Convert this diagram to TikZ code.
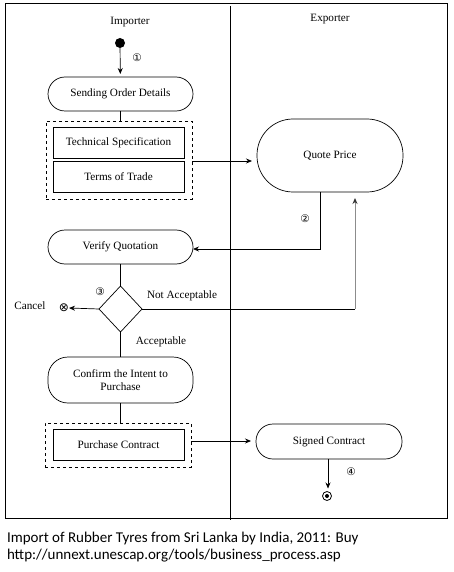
\documentclass[tikz,border=0pt]{standalone}
\usepackage{fontspec}
\setmainfont{Liberation Serif}
\newfontfamily\capfont{Carlito}
\newfontfamily\symfont{DejaVu Sans}
\usetikzlibrary{arrows.meta,shapes.geometric,calc}
\begin{document}
\begin{tikzpicture}[x=1pt,y=-1pt,
  every node/.style={inner sep=0pt,outer sep=0pt},
  lbl/.style={font=\fontsize{11.2}{12}\selectfont},
  act/.style={draw,line width=0.7pt,rounded corners=17pt,minimum width=145pt,minimum height=34pt,font=\fontsize{11.2}{12}\selectfont,align=center},
  doc/.style={draw,line width=0.7pt,minimum width=131pt,minimum height=31pt,font=\fontsize{11.2}{12}\selectfont},
  grp/.style={draw,dashed,line width=0.7pt,minimum width=146pt},
  num/.style={font=\symfont\fontsize{10.5}{11}\selectfont},
  conn/.style={line width=0.7pt},
  arr/.style={line width=0.7pt,-{Stealth[length=6pt,width=5pt]}},
]
\useasboundingbox (0,0) rectangle (454,572);
% frame and lanes
\draw[line width=0.8pt] (5,3) rectangle (447,518);
\draw[line width=0.8pt] (230,6) -- (230,520);
\node[lbl] (imp) at (130,22) {Importer};
\node[lbl] (exp) at (330,19) {Exporter};
% nodes
\node[circle,fill=black,minimum size=10pt] (start) at (120,43) {};
\node[act] (sod) at (120.5,94) {Sending Order Details};
\node[grp,minimum height=78pt] (dash1) at (119,160) {};
\node[doc] (tech) at (118.5,142.5) {Technical Specification};
\node[doc] (terms) at (118.5,176.5) {Terms of Trade};
\node[act,minimum width=146pt,minimum height=73pt,rounded corners=36pt] (quote) at (330,155.5) {Quote Price};
\node[act] (verify) at (120.5,247) {Verify Quotation};
\node[diamond,draw,line width=0.7pt,minimum width=43pt,minimum height=46pt] (dia) at (120.5,309) {};
\node[lbl] (cancel) at (30,306) {Cancel};
\node[font=\symfont\fontsize{12}{13}\selectfont] (xm) at (64,308) {⊗};
\node[lbl] (notacc) at (182,296) {Not Acceptable};
\node[lbl] (acc) at (161,342) {Acceptable};
\node[act,minimum height=46pt,rounded corners=20pt,align=center] (confirm) at (120.5,380) {Confirm the Intent to\\[1pt]Purchase};
\node[grp,minimum height=44pt] (dash2) at (118,445) {};
\node[doc] (pc) at (118.5,444.5) {Purchase Contract};
\node[act,minimum width=146pt,minimum height=35pt] (signed) at (329,441.5) {Signed Contract};
\node[circle,draw,line width=0.8pt,minimum size=9pt] (endn) at (327,496) {};
\node[circle,fill=black,minimum size=4pt] (enddot) at (327,496) {};
% step numbers
\node[num] (n1) at (137,58) {①};
\node[num] (n2) at (305,219) {②};
\node[num] (n3) at (100,292) {③};
\node[num] (n4) at (351,472) {④};
% connectors
\draw[arr,shorten >=3pt] (start) -- (sod);
\draw[conn] (sod) -- (sod |- dash1.north);
\coordinate (a1) at ($(dash1.east)+(0,1)$);
\draw[arr,shorten >=5pt] (a1) -- (a1 -| quote.west);
\draw[arr] ([xshift=-10pt]quote.south) |- ([yshift=-2pt]verify.east);
\draw[conn] (verify) -- (dia);
\draw[arr] (dia.west) -- (xm.east);
\coordinate (turn) at (355,309);
\draw[conn] (dia.east) -- (turn);
\draw[line width=0.9pt,color=black!45,-{Stealth[length=6pt,width=5pt,color=black!80]},shorten >=6pt] (turn) -- ([xshift=25pt]quote.south);
\draw[conn] (dia) -- (confirm);
\draw[conn] (confirm) -- (confirm |- dash2.north);
\coordinate (a2) at ($(dash2.east)+(0,-4)$);
\draw[arr,shorten >=5pt] (a2) -- (a2 -| signed.west);
\draw[arr,shorten >=3pt] ([xshift=-1pt]signed.south) -- ([xshift=1pt]endn.north);
% caption
\node[anchor=west,font=\capfont\fontsize{15}{16}\selectfont] (cap1) at (7,538) {Import of Rubber Tyres from Sri Lanka by India, 2011: Buy};
\node[anchor=west,font=\capfont\fontsize{15}{16}\selectfont] (cap2) at (7,556) {http://unnext.unescap.org/tools/business\_process.asp};
\end{tikzpicture}
\end{document}
